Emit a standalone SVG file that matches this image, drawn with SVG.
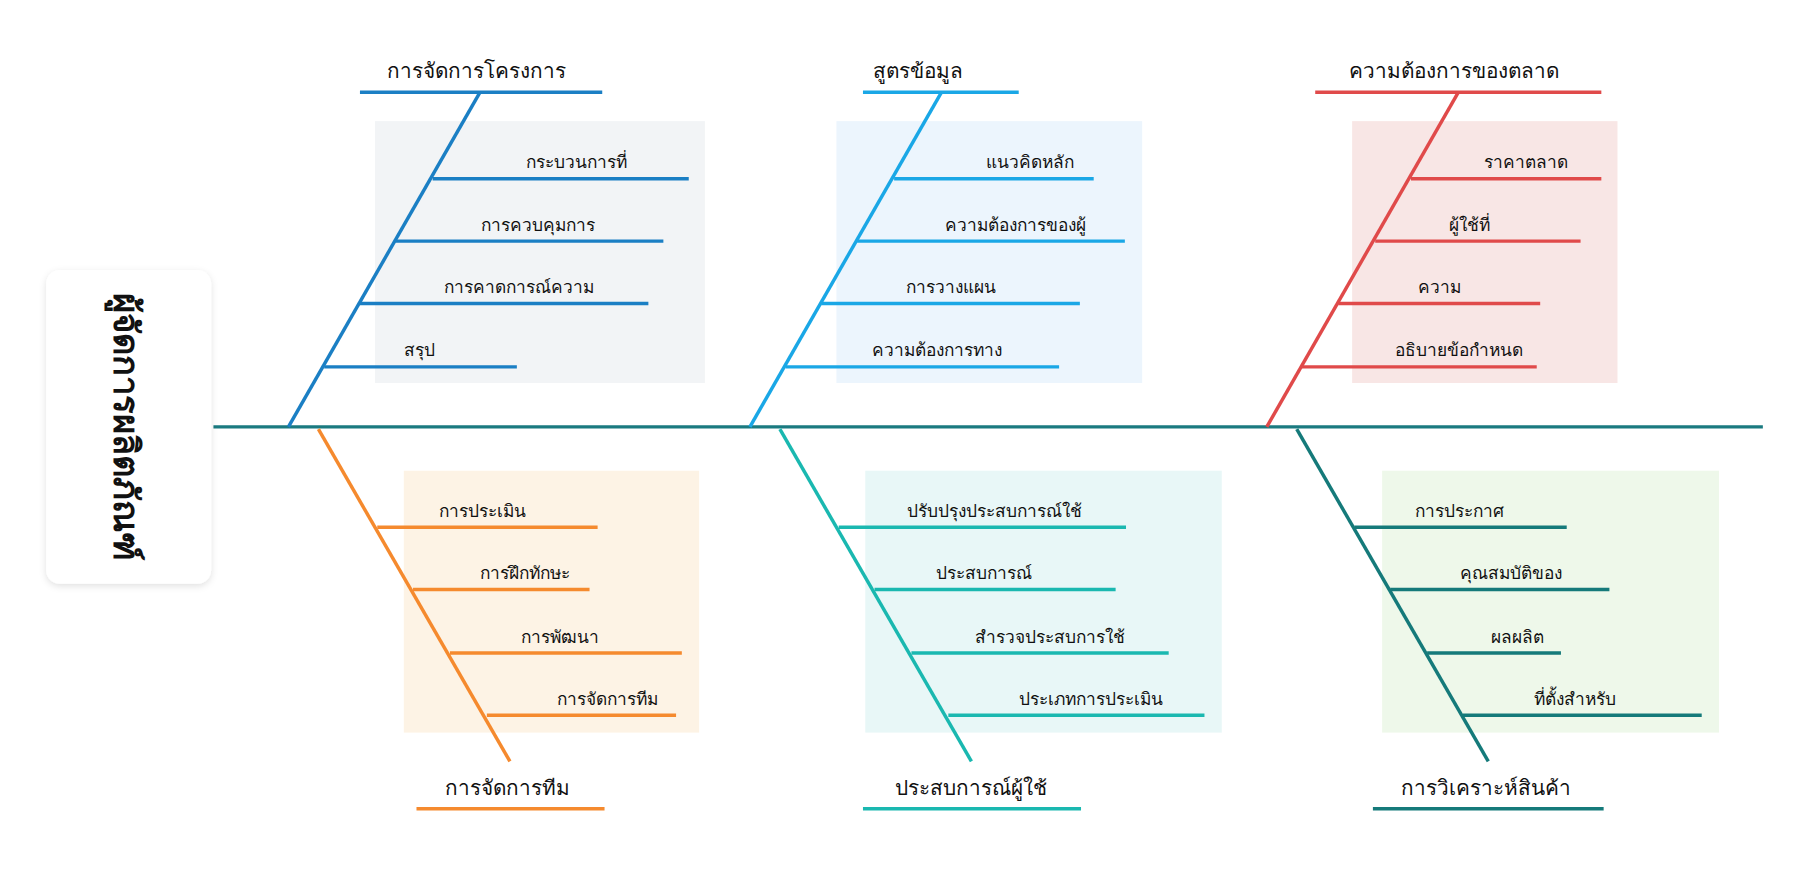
<svg xmlns="http://www.w3.org/2000/svg" width="1809" height="870" viewBox="0 0 1809 870">
<defs>
<style>
text{font-family:"Noto Sans","Noto Sans CJK SC",sans-serif;fill:#111;text-anchor:middle}
.h{font-size:18px}
.s{font-size:15px}
.c{font-size:30px;font-weight:bold}
line{stroke-width:3;stroke-linecap:butt}
</style>
<filter id="sh" x="-20%" y="-20%" width="140%" height="140%"><feDropShadow dx="0" dy="2" stdDeviation="3" flood-color="#000" flood-opacity="0.12"/></filter>
</defs>
<rect width="1809" height="870" fill="#fff"/>
<g transform="scale(1.1537)">
<g id="backgrounds">
<rect x="325" y="105" width="286" height="227" fill="#f2f4f6"/>
<rect x="725" y="105" width="265" height="227" fill="#ecf5fd"/>
<rect x="1172" y="105" width="230" height="227" fill="#f8e6e5"/>
<rect x="350" y="408" width="256" height="227" fill="#fdf3e5"/>
<rect x="750" y="408" width="309" height="227" fill="#e8f7f7"/>
<rect x="1198" y="408" width="292" height="227" fill="#eef8ea"/>
</g>
<g id="connectors">
<line x1="185" y1="370" x2="1528" y2="370" stroke="#1a7a80"/>
</g>
<g id="center">
<rect x="40" y="234" width="143" height="272" rx="12" fill="#fff" filter="url(#sh)"/>
<text class="c" transform="translate(99,370) rotate(90)">ผู้จัดการผลิตภัณฑ์</text>
</g>
<g id="b1" stroke="#1b7fc4">
<line x1="250" y1="370" x2="416" y2="80"/>
<line x1="312" y1="80" x2="522" y2="80"/>
<line x1="375" y1="155" x2="597" y2="155"/>
<line x1="343" y1="209" x2="575" y2="209"/>
<line x1="312" y1="263" x2="562" y2="263"/>
<line x1="281" y1="318" x2="448" y2="318"/>
<g stroke="none">
<text class="h" x="413" y="68">การจัดการโครงการ</text>
<text class="s" x="500" y="146">กระบวนการที่</text>
<text class="s" x="466" y="200">การควบคุมการ</text>
<text class="s" x="450" y="254">การคาดการณ์ความ</text>
<text class="s" x="364" y="309">สรุป</text>
</g>
</g>
<g id="b2" stroke="#1aa7e6">
<line x1="650" y1="370" x2="816" y2="80"/>
<line x1="748" y1="80" x2="883" y2="80"/>
<line x1="775" y1="155" x2="948" y2="155"/>
<line x1="743" y1="209" x2="975" y2="209"/>
<line x1="712" y1="263" x2="936" y2="263"/>
<line x1="681" y1="318" x2="918" y2="318"/>
<g stroke="none">
<text class="h" x="796" y="68">สูตรข้อมูล</text>
<text class="s" x="893" y="146">แนวคิดหลัก</text>
<text class="s" x="880" y="200">ความต้องการของผู้</text>
<text class="s" x="824" y="254">การวางแผน</text>
<text class="s" x="812" y="309">ความต้องการทาง</text>
</g>
</g>
<g id="b3" stroke="#e04a4a">
<line x1="1098" y1="370" x2="1264" y2="80"/>
<line x1="1140" y1="80" x2="1388" y2="80"/>
<line x1="1223" y1="155" x2="1388" y2="155"/>
<line x1="1192" y1="209" x2="1370" y2="209"/>
<line x1="1160" y1="263" x2="1335" y2="263"/>
<line x1="1128" y1="318" x2="1332" y2="318"/>
<g stroke="none">
<text class="h" x="1260" y="68">ความต้องการของตลาด</text>
<text class="s" x="1323" y="146">ราคาตลาด</text>
<text class="s" x="1274" y="200">ผู้ใช้ที่</text>
<text class="s" x="1248" y="254">ความ</text>
<text class="s" x="1265" y="309">อธิบายข้อกำหนด</text>
</g>
</g>
<g id="b4" stroke="#f58a2e">
<line x1="276" y1="372" x2="442" y2="660"/>
<line x1="361" y1="701" x2="524" y2="701"/>
<line x1="327" y1="457" x2="518" y2="457"/>
<line x1="358" y1="511" x2="511" y2="511"/>
<line x1="390" y1="566" x2="591" y2="566"/>
<line x1="422" y1="620" x2="586" y2="620"/>
<g stroke="none">
<text class="h" x="440" y="689">การจัดการทีม</text>
<text class="s" x="418" y="448">การประเมิน</text>
<text class="s" x="455" y="502">การฝึกทักษะ</text>
<text class="s" x="485" y="557">การพัฒนา</text>
<text class="s" x="527" y="611">การจัดการทีม</text>
</g>
</g>
<g id="b5" stroke="#1ab8b0">
<line x1="676" y1="372" x2="842" y2="660"/>
<line x1="748" y1="701" x2="937" y2="701"/>
<line x1="727" y1="457" x2="976" y2="457"/>
<line x1="758" y1="511" x2="967" y2="511"/>
<line x1="790" y1="566" x2="1013" y2="566"/>
<line x1="822" y1="620" x2="1044" y2="620"/>
<g stroke="none">
<text class="h" x="842" y="689">ประสบการณ์ผู้ใช้</text>
<text class="s" x="862" y="448">ปรับปรุงประสบการณ์ใช้</text>
<text class="s" x="853" y="502">ประสบการณ์</text>
<text class="s" x="910" y="557">สำรวจประสบการใช้</text>
<text class="s" x="946" y="611">ประเภทการประเมิน</text>
</g>
</g>
<g id="b6" stroke="#157a7a">
<line x1="1124" y1="372" x2="1290" y2="660"/>
<line x1="1190" y1="701" x2="1390" y2="701"/>
<line x1="1174" y1="457" x2="1358" y2="457"/>
<line x1="1205" y1="511" x2="1395" y2="511"/>
<line x1="1237" y1="566" x2="1353" y2="566"/>
<line x1="1268" y1="620" x2="1475" y2="620"/>
<g stroke="none">
<text class="h" x="1288" y="689">การวิเคราะห์สินค้า</text>
<text class="s" x="1265" y="448">การประกาศ</text>
<text class="s" x="1310" y="502">คุณสมบัติของ</text>
<text class="s" x="1315" y="557">ผลผลิต</text>
<text class="s" x="1365" y="611">ที่ตั้งสำหรับ</text>
</g>
</g>
</g>
</svg>
